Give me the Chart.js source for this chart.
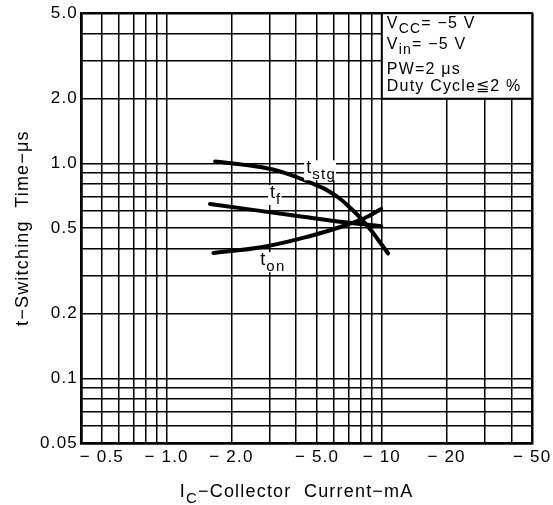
<!DOCTYPE html>
<html>
<head>
<meta charset="utf-8">
<script src="https://cdn.jsdelivr.net/npm/chart.js@4"></script>
<style>
  html, body { margin: 0; padding: 0; background: #fff; }
  #wrap { width: 553px; height: 505px; }
</style>
</head>
<body>
<div id="wrap"><canvas id="chart" width="553" height="505"></canvas></div>
<script>
// Switching time vs collector current (|Ic| in mA, t in us)
const T_ON_I  = [1.65, 2.79, 4.74, 6.74, 8.33, 9.93];
const T_ON_T  = [0.383, 0.408, 0.462, 0.514, 0.557, 0.613];
const T_F_I   = [1.59, 3.98, 6.74, 9.93];
const T_F_T   = [0.647, 0.571, 0.532, 0.510];
const T_STG_I = [1.68, 2.35, 3.33, 5.27, 6.28, 7.23, 8.04, 8.93, 10.7];
const T_STG_T = [1.02, 0.982, 0.921, 0.772, 0.694, 0.613, 0.551, 0.487, 0.381];

// grid lines + the few that carry a label
const X_GRID = [0.4, 0.5, 0.6, 0.7, 0.8, 0.9, 1, 2, 3, 4, 5, 6, 7, 8, 9, 10, 20, 30, 40, 50];
const X_LABELS = { 0.5: '− 0.5', 1: '− 1.0', 2: '− 2.0', 5: '− 5.0', 10: '− 10', 20: '− 20', 50: '− 50' };
const Y_GRID = [0.05, 0.06, 0.07, 0.08, 0.09, 0.1, 0.2, 0.3, 0.4, 0.5, 0.6, 0.7, 0.8, 0.9, 1, 2, 3, 4, 5];
const Y_LABELS = { 0.05: '0.05', 0.1: '0.1', 0.2: '0.2', 0.5: '0.5', 1: '1.0', 2: '2.0', 5: '5.0' };

// test conditions box (text with subscripts)
const CONDITIONS = [
  [['V'], ['CC', 'sub'], ['= −5 V']],
  [['V'], ['in', 'sub'], ['= −5 V']],
  [['PW=2 μs']],
  [['Duty Cycle≦2 %']],
];

// curve tags, anchored in data units
const CURVE_TAGS = [
  { parts: [['t'], ['stg', 'sub']], at: [4.45, 0.90] },
  { parts: [['t'], ['f', 'sub']], at: [3.02, 0.69] },
  { parts: [['t'], ['on', 'sub']], at: [2.72, 0.336] },
];

const FONT = '"Liberation Sans", Arial, Helvetica, sans-serif';

const toPts = (xs, ys) => xs.map((x, i) => ({ x, y: ys[i] }));

function richWidth(ctx, parts, size) {
  let w = 0;
  for (const [text, kind] of parts) {
    ctx.font = `${kind === 'sub' ? Math.round(size * 0.85) : size}px ${FONT}`;
    w += ctx.measureText(text).width;
  }
  return w;
}

function drawRich(ctx, parts, x, y, size) {
  let cx = x;
  for (const [text, kind] of parts) {
    const sub = kind === 'sub';
    ctx.font = `${sub ? Math.round(size * 0.85) : size}px ${FONT}`;
    ctx.fillText(text, cx, sub ? y + size * 0.32 : y);
    cx += ctx.measureText(text).width;
  }
}

const sheetText = {
  id: 'sheetText',
  beforeDraw(chart) {
    chart.ctx.letterSpacing = '1.2px';
  },
  afterDatasetsDraw(chart) {
    const { ctx, chartArea: area, scales: { x, y } } = chart;
    ctx.save();
    ctx.letterSpacing = '1.2px';
    ctx.textAlign = 'left';
    ctx.textBaseline = 'alphabetic';
    ctx.fillStyle = '#000';

    // curve tags on white patches
    CURVE_TAGS.forEach(tag => {
      const px = x.getPixelForValue(tag.at[0]);
      const py = y.getPixelForValue(tag.at[1]);
      const w = richWidth(ctx, tag.parts, 18);
      ctx.fillStyle = '#fff';
      ctx.fillRect(px - 2, py - 13, w + 2, 20);
      ctx.fillStyle = '#000';
      drawRich(ctx, tag.parts, px, py, 18);
    });

    // conditions box: from Ic=10 to the right edge, from t=2.0 to the top
    const bx = x.getPixelForValue(10);
    const by = y.getPixelForValue(2);
    ctx.fillStyle = '#fff';
    ctx.fillRect(bx, area.top, area.right - bx, by - area.top);
    ctx.strokeStyle = '#000';
    ctx.lineWidth = 2;
    ctx.strokeRect(bx, area.top, area.right - bx, by - area.top);
    ctx.fillStyle = '#000';
    const baselines = [15, 36, 61, 78];
    CONDITIONS.forEach((line, i) => drawRich(ctx, line, bx + 5, area.top + baselines[i], 16));

    // x title with subscript
    const title = [['I'], ['C', 'sub'], ['−Collector  Current−mA']];
    const tw = richWidth(ctx, title, 18);
    drawRich(ctx, title, (area.left + area.right) / 2 - 10 - tw / 2, 497, 18);
    ctx.restore();
  },
};

const edgeWidth = (vals) => (c) => {
  const v = c.tick && c.tick.value;
  return (v === vals[0] || v === vals[vals.length - 1]) ? 2.5 : 1.5;
};

const lineStyle = {
  borderColor: '#000',
  backgroundColor: '#000',
  borderWidth: 4,
  pointRadius: 0,
  tension: 0.4,
  fill: false,
  borderCapStyle: 'round',
  borderJoinStyle: 'round',
};

new Chart(document.getElementById('chart'), {
  type: 'line',
  data: {
    datasets: [
      { label: 't_on', data: toPts(T_ON_I, T_ON_T), ...lineStyle },
      { label: 't_f', data: toPts(T_F_I, T_F_T), ...lineStyle },
      { label: 't_stg', data: toPts(T_STG_I, T_STG_T), ...lineStyle },
    ],
  },
  options: {
    responsive: false,
    animation: false,
    devicePixelRatio: 1,
    layout: { padding: { left: 0, right: 16, top: 10, bottom: 0 } },
    plugins: { legend: { display: false }, tooltip: { enabled: false } },
    scales: {
      x: {
        type: 'logarithmic',
        min: 0.4,
        max: 50,
        afterBuildTicks: s => { s.ticks = X_GRID.map(v => ({ value: v })); },
        afterFit: s => { s.height = 62; },
        grid: { color: '#000', lineWidth: edgeWidth(X_GRID), drawTicks: false },
        border: { color: '#000', width: 2.5 },
        ticks: {
          autoSkip: false,
          maxRotation: 0,
          minRotation: 0,
          padding: 4,
          color: '#000',
          font: { family: FONT, size: 17 },
          callback: v => X_LABELS[v] || '',
        },
      },
      y: {
        type: 'logarithmic',
        min: 0.05,
        max: 5,
        afterBuildTicks: s => { s.ticks = Y_GRID.map(v => ({ value: v })); },
        afterFit: s => { s.width = 81; },
        grid: { color: '#000', lineWidth: edgeWidth(Y_GRID), drawTicks: false },
        border: { color: '#000', width: 2.5 },
        title: {
          display: true,
          text: 't−Switching  Time−μs',
          color: '#000',
          font: { family: FONT, size: 18 },
          padding: { top: 12, bottom: 0 },
        },
        ticks: {
          autoSkip: false,
          padding: 3,
          color: '#000',
          font: { family: FONT, size: 17 },
          callback: v => Y_LABELS[v] || '',
        },
      },
    },
  },
  plugins: [sheetText],
});
</script>
</body>
</html>
